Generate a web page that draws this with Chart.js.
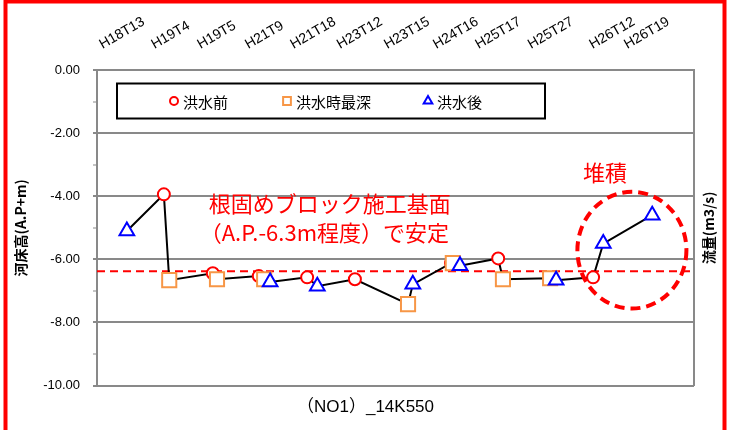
<!DOCTYPE html>
<html>
<head>
<meta charset="utf-8">
<script src="https://cdn.jsdelivr.net/npm/chart.js@4.4.1/dist/chart.umd.min.js"></script>
<style>
  html, body { margin: 0; padding: 0; background: #fff; }
  #wrap { width: 731px; height: 430px; }
</style>
</head>
<body>
<div id="wrap"><canvas id="chart" width="731" height="430"></canvas></div>
<script>
// survey labels along the top, and where each label sits on the x axis (0-100)
const topLabels = ["H18T13", "H19T4", "H19T5", "H21T9", "H21T18", "H23T12",
  "H23T15", "H24T16", "H25T17", "H25T27", "H26T12", "H26T19"];
const topLabelX = [2.0, 10.7, 18.4, 26.4, 34.0, 41.8, 49.7, 57.9, 65.0, 73.8, 84.1, 89.9];

// 洪水前 (before flood)
const beforeX = [11.2, 19.4, 27.1, 35.2, 43.2, 59.3, 67.2, 83.1];
const beforeY = [-3.94, -6.44, -6.53, -6.57, -6.63, -6.12, -5.97, -6.57];

// 洪水時最深 (deepest during flood)
const deepestX = [12.1, 20.1, 28.0, 52.1, 59.6, 68.0, 75.9];
const deepestY = [-6.66, -6.63, -6.63, -7.42, -6.12, -6.63, -6.60];

// 洪水後 (after flood)
const afterX = [5.0, 29.0, 36.9, 52.9, 60.8, 76.9, 84.8, 93.0];
const afterY = [-5.10, -6.72, -6.85, -6.79, -6.20, -6.66, -5.50, -4.60];

// block foundation level (red dashed line)
const baseLevel = -6.38;

const GRAY = '#898989';
const RED = '#ff0000';
const ORANGE = '#f79646';
const BLUE = '#0000ff';
const JP = '"Noto Sans CJK JP", sans-serif';
Chart.defaults.font.family = '"Liberation Sans", "Noto Sans CJK JP", sans-serif';
Chart.defaults.color = '#000';

const toPoints = (xs, ys) => xs.map((x, i) => ({ x, y: ys[i] }));
const allPoints = [
  ...toPoints(beforeX, beforeY),
  ...toPoints(deepestX, deepestY),
  ...toPoints(afterX, afterY),
].sort((a, b) => a.x - b.x);

// annotation positions in axis units
const notes = [
  { text: '根固めブロック施工基面', x: 18.7, y: -4.22, align: 'left' },
  { text: '（A.P.-6.3m程度）で安定', x: 17.2, y: -5.14, align: 'left' },
  { text: '堆積', x: 85.1, y: -3.24, align: 'center' },
];
const depositRing = { x: 89.6, y: -5.71, rx: 9.13, ry: 1.85 };

const legendItems = [
  { text: '洪水前', style: 'circle', color: RED, radius: 4, dx: 77 },
  { text: '洪水時最深', style: 'rect', color: ORANGE, radius: 5.5, dx: 190 },
  { text: '洪水後', style: 'triangle', color: BLUE, radius: 5, dx: 331 },
];

const overlay = {
  id: 'overlay',
  afterDatasetsDraw(chart) {
    const { ctx, scales: { x, y } } = chart;
    ctx.save();
    // dashed ring around the deposit
    const cx = x.getPixelForValue(depositRing.x);
    const cy = y.getPixelForValue(depositRing.y);
    const rx = x.getPixelForValue(depositRing.x + depositRing.rx) - cx;
    const ry = y.getPixelForValue(depositRing.y - depositRing.ry) - cy;
    ctx.strokeStyle = RED;
    ctx.lineWidth = 4;
    ctx.setLineDash([10, 6]);
    ctx.beginPath();
    ctx.ellipse(cx, cy, rx, ry, 0, 0, Math.PI * 2);
    ctx.stroke();
    ctx.setLineDash([]);

    ctx.fillStyle = RED;
    ctx.font = '22px ' + JP;
    ctx.textBaseline = 'middle';
    notes.forEach(n => {
      ctx.textAlign = n.align;
      ctx.fillText(n.text, x.getPixelForValue(n.x), y.getPixelForValue(n.y));
    });
    ctx.restore();
  },
  afterDraw(chart) {
    const { ctx, chartArea } = chart;
    ctx.save();
    // legend box inside the plot
    const bx = chartArea.left + 20, by = chartArea.top + 13.5, bw = 428, bh = 35;
    ctx.fillStyle = '#fff';
    ctx.fillRect(bx, by, bw, bh);
    ctx.strokeStyle = '#000';
    ctx.lineWidth = 2;
    ctx.strokeRect(bx, by, bw, bh);
    const my = by + bh / 2;
    ctx.font = '15px ' + JP;
    ctx.textBaseline = 'middle';
    ctx.textAlign = 'left';
    legendItems.forEach(it => {
      const mx = chartArea.left + it.dx;
      ctx.strokeStyle = it.color;
      ctx.fillStyle = '#fff';
      ctx.lineWidth = 2;
      Chart.helpers.drawPoint(ctx, { pointStyle: it.style, radius: it.radius, rotation: 0, borderWidth: 2 }, mx, my);
      ctx.fillStyle = '#000';
      ctx.fillText(it.text, mx + 9, my + 1);
    });

    // right axis title, reading upward
    ctx.translate(709, (chartArea.top + chartArea.bottom) / 2);
    ctx.rotate(-Math.PI / 2);
    ctx.font = 'bold 14px ' + JP;
    ctx.textAlign = 'center';
    ctx.fillStyle = '#000';
    ctx.fillText('流量(m3/s)', 0, 0);
    ctx.setTransform(1, 0, 0, 1, 0, 0);

    // red frame round the picture
    ctx.strokeStyle = RED;
    ctx.lineWidth = 4;
    ctx.strokeRect(5.5, 1.5, 719, 440);
    ctx.restore();
  }
};

new Chart(document.getElementById('chart'), {
  type: 'scatter',
  data: {
    datasets: [
      {
        label: '洪水後',
        data: toPoints(afterX, afterY),
        pointStyle: 'triangle',
        pointRadius: 8.5,
        borderColor: BLUE,
        backgroundColor: '#fff',
        borderWidth: 2,
      },
      {
        label: '洪水時最深',
        data: toPoints(deepestX, deepestY),
        pointStyle: 'rect',
        pointRadius: 10,
        borderColor: ORANGE,
        backgroundColor: '#fff',
        borderWidth: 2,
      },
      {
        label: '洪水前',
        data: toPoints(beforeX, beforeY),
        pointStyle: 'circle',
        pointRadius: 6,
        borderColor: RED,
        backgroundColor: '#fff',
        borderWidth: 2,
      },
      {
        label: 'line',
        data: allPoints,
        showLine: true,
        borderColor: '#000',
        borderWidth: 2,
        pointRadius: 0,
        tension: 0,
      },
      {
        label: 'base',
        data: [{ x: 0, y: baseLevel }, { x: 100, y: baseLevel }],
        showLine: true,
        borderColor: RED,
        borderWidth: 2,
        borderDash: [8, 5],
        pointRadius: 0,
      },
    ],
  },
  options: {
    responsive: false,
    animation: false,
    events: [],
    layout: { padding: 0 },
    plugins: {
      legend: { display: false },
      tooltip: { enabled: false },
      title: {
        display: true,
        position: 'bottom',
        text: '（NO1）_14K550',
        font: { size: 17, weight: 'normal' },
        color: '#000',
        padding: { top: 12, bottom: 12 },
      },
    },
    scales: {
      x: {
        type: 'linear',
        position: 'top',
        min: 0,
        max: 100,
        afterBuildTicks: s => { s.ticks = topLabelX.map(v => ({ value: v })); },
        ticks: {
          autoSkip: false,
          minRotation: 30,
          maxRotation: 30,
          padding: 9,
          font: { size: 14 },
          callback: (v, i) => topLabels[i],
        },
        grid: { display: false },
        border: { display: false },
        afterFit: s => { s.height = 70; },
      },
      y: {
        min: -10,
        max: 0,
        ticks: {
          stepSize: 1,
          padding: 13,
          font: { size: 13 },
          callback: v => (v % 2 === 0 ? v.toFixed(2) : ''),
        },
        grid: {
          color: c => (c.tick && c.tick.value % 2 === 0 ? GRAY : 'rgba(0,0,0,0)'),
          lineWidth: 2,
          tickColor: GRAY,
          tickWidth: c => (c.tick && c.tick.value % 2 === 0 ? 2 : 1),
          tickLength: 4,
        },
        border: { color: GRAY, width: 2 },
        title: {
          display: true,
          text: '河床高(A.P+m)',
          font: { size: 14, weight: 'bold', family: JP },
          padding: { top: 12, bottom: 0 },
        },
        afterFit: s => { s.width = 97; },
      },
      y2: {
        position: 'right',
        min: -10,
        max: 0,
        ticks: { display: false },
        grid: { drawOnChartArea: false, drawTicks: false },
        border: { color: GRAY, width: 2 },
        afterFit: s => { s.width = 37; },
      },
    },
  },
  plugins: [overlay],
});
</script>
</body>
</html>
